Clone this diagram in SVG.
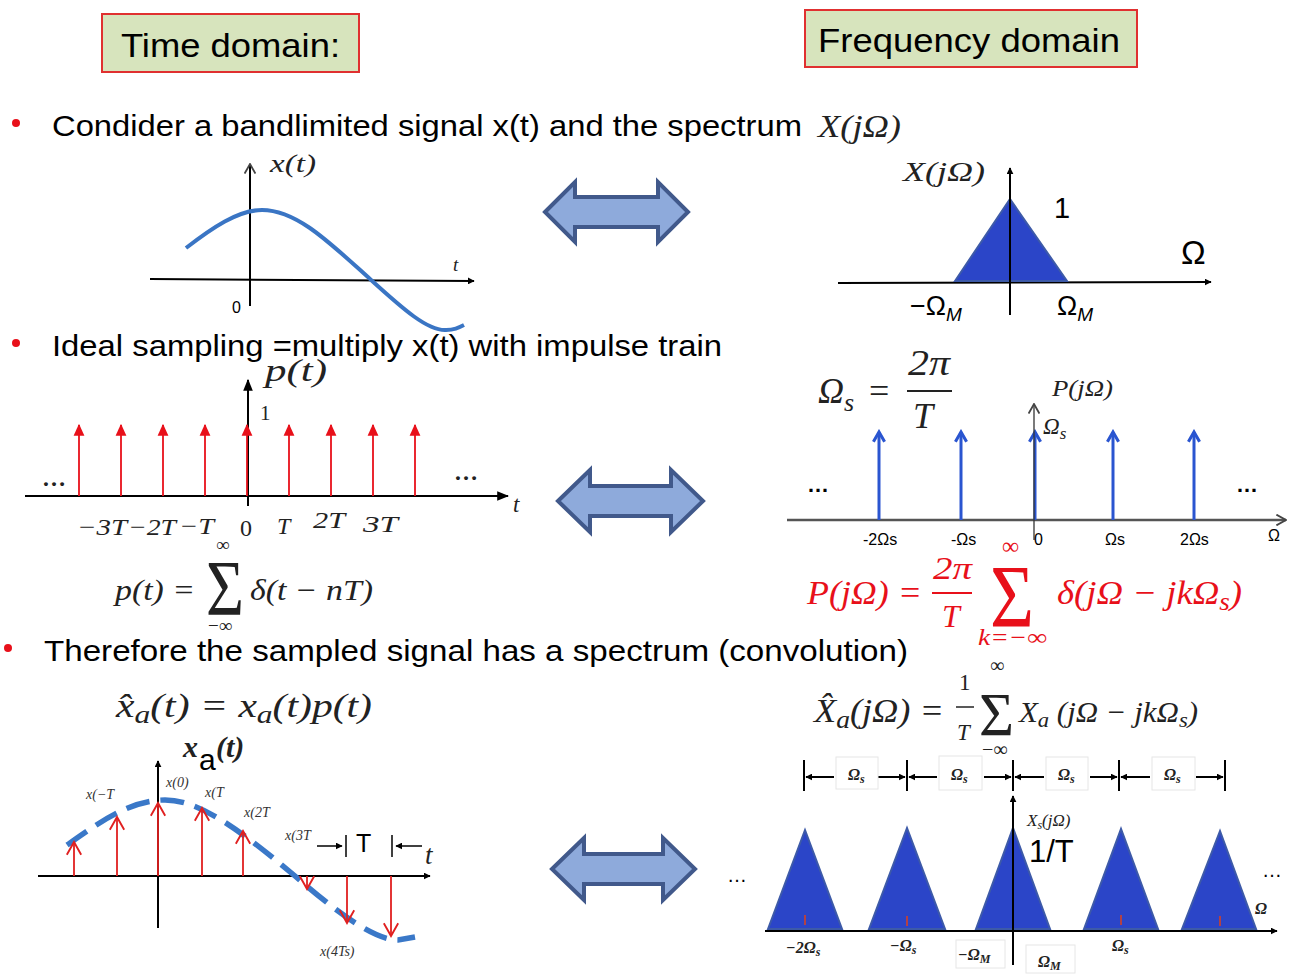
<svg xmlns="http://www.w3.org/2000/svg" width="1297" height="974" viewBox="0 0 1297 974">
<defs>
<style>
.sans{font-family:"Liberation Sans",Arial,sans-serif;fill:#000}
.m{font-family:"Liberation Serif","Times New Roman",serif;font-style:italic;fill:#222}
.mr{font-family:"Liberation Serif","Times New Roman",serif;fill:#222}
.ax{stroke:#000;stroke-width:2;fill:none}
.axg{stroke:#555;stroke-width:2.5;fill:none}
.title{fill:#d7e4bd;stroke:#e03030;stroke-width:2}
.dbl{fill:#8eaadb;stroke:#41598b;stroke-width:4;stroke-linejoin:miter}
.imp{stroke:#e8101a;stroke-width:1.8}
.bimp{stroke:#2a55d0;stroke-width:3}
.samp{stroke:#e02020;stroke-width:1.8;fill:none}
.tri{fill:#2b45c8;stroke:#3d5aa8;stroke-width:2}
.red{fill:#e8101a}
.rm{font-family:"Liberation Serif","Times New Roman",serif;font-style:italic;fill:#e8101a}
.box{fill:#fff;stroke:#e6e6e6;stroke-width:1}
</style>
<marker id="ah" viewBox="0 0 10 10" refX="9" refY="5" markerWidth="7" markerHeight="7" markerUnits="userSpaceOnUse" orient="auto"><path d="M0,0 L10,5 L0,10 Z" fill="#000"/></marker>
<marker id="ahb" viewBox="0 0 10 10" refX="9" refY="5" markerWidth="12" markerHeight="12" markerUnits="userSpaceOnUse" orient="auto"><path d="M0,1 L10,5 L0,9 Z" fill="#000"/></marker>
<marker id="aho" viewBox="0 0 10 10" refX="9" refY="5" markerWidth="12" markerHeight="12" markerUnits="userSpaceOnUse" orient="auto"><path d="M1,0.5 L9,5 L1,9.5" fill="none" stroke="#444" stroke-width="1.5"/></marker>
<marker id="ahr" viewBox="0 0 10 10" refX="9" refY="5" markerWidth="12" markerHeight="12" markerUnits="userSpaceOnUse" orient="auto"><path d="M0,0.5 L10,5 L0,9.5 Z" fill="#e8101a"/></marker>
<marker id="ahbl" viewBox="0 0 10 10" refX="8" refY="5" markerWidth="14" markerHeight="14" markerUnits="userSpaceOnUse" orient="auto"><path d="M1,1 L8,5 L1,9" fill="none" stroke="#2a55d0" stroke-width="2.2"/></marker>
<marker id="ahv" viewBox="0 0 10 10" refX="9" refY="5" markerWidth="16" markerHeight="16" markerUnits="userSpaceOnUse" orient="auto"><path d="M1,0.5 L9,5 L1,9.5" fill="none" stroke="#e02020" stroke-width="1.2"/></marker>
</defs>
<rect width="1297" height="974" fill="#fff"/>

<g id="title-time"><rect class="title" x="102" y="14" width="257" height="58"/><text class="sans" x="121" y="57" font-size="34" textLength="219" lengthAdjust="spacingAndGlyphs">Time domain:</text></g>
<g id="title-freq"><rect class="title" x="805" y="10" width="332" height="57"/><text class="sans" x="818" y="52" font-size="34" textLength="302" lengthAdjust="spacingAndGlyphs">Frequency domain</text></g>

<g id="bullet1"><circle cx="16" cy="123" r="4" class="red"/><text class="sans" x="52" y="136" font-size="30" textLength="750" lengthAdjust="spacingAndGlyphs">Condider a bandlimited signal x(t) and the spectrum</text><text class="m" x="818" y="137" font-size="32" textLength="83" lengthAdjust="spacingAndGlyphs">X(jΩ)</text></g>

<g id="plot-xt">
<line class="ax" x1="150" y1="279" x2="474" y2="281" stroke-width="1.6" marker-end="url(#ah)"/>
<line class="ax" x1="250" y1="306" x2="250" y2="164" stroke-width="1.3" marker-end="url(#aho)"/>
<text class="m" x="270" y="172" font-size="26" textLength="46" lengthAdjust="spacingAndGlyphs">x(t)</text>
<text class="m" x="453" y="271" font-size="19">t</text>
<text class="sans" x="232" y="313" font-size="16" fill="#444">0</text>
<path d="M186,248 C212,228 238,210 262,210 C297,210 330,243 370,279 C404,310 428,331 446,330 C454,330 458,328 464,325" fill="none" stroke="#3a75c4" stroke-width="4"/>
</g>

<g id="plot-Xjw">
<line class="ax" x1="838" y1="283" x2="1211" y2="282" marker-end="url(#ah)"/>
<polygon class="tri" points="955,281 1010,199 1067,281"/>
<line class="ax" x1="1010" y1="315" x2="1010" y2="168" marker-end="url(#ah)"/>
<text class="m" x="903" y="181" font-size="27" textLength="82" lengthAdjust="spacingAndGlyphs">X(jΩ)</text>
<text class="sans" x="1054" y="218" font-size="29">1</text>
<text class="sans" x="1181" y="264" font-size="33">Ω</text>
<text class="sans" x="910" y="315" font-size="27">−Ω<tspan font-size="19" dy="6" font-style="italic">M</tspan></text>
<text class="sans" x="1057" y="315" font-size="27">Ω<tspan font-size="19" dy="6" font-style="italic">M</tspan></text>
</g>

<g id="bullet2"><circle cx="16" cy="343" r="4" class="red"/><text class="sans" x="52" y="356" font-size="30" textLength="670" lengthAdjust="spacingAndGlyphs">Ideal sampling =multiply x(t) with impulse train</text></g>

<g id="plot-pt">
<line class="ax" x1="25" y1="496" x2="508" y2="496" stroke="#333" marker-end="url(#ahb)"/>
<line class="ax" x1="248" y1="506" x2="248" y2="380" stroke="#111" marker-end="url(#ahb)"/>
<g class="imp" marker-end="url(#ahr)">
<line x1="79" y1="496" x2="79" y2="425"/><line x1="121" y1="496" x2="121" y2="425"/><line x1="163" y1="496" x2="163" y2="425"/><line x1="205" y1="496" x2="205" y2="425"/><line x1="247" y1="496" x2="247" y2="425"/><line x1="289" y1="496" x2="289" y2="425"/><line x1="331" y1="496" x2="331" y2="425"/><line x1="373" y1="496" x2="373" y2="425"/><line x1="415" y1="496" x2="415" y2="425"/>
</g>
<text class="m" x="265" y="381" font-size="32" textLength="62" lengthAdjust="spacingAndGlyphs">p(t)</text>
<text class="mr" x="260" y="420" font-size="21">1</text>
<text class="mr" x="42" y="486" font-size="24" font-weight="bold">…</text>
<text class="mr" x="454" y="480" font-size="24" font-weight="bold">…</text>
<text class="m" x="513" y="512" font-size="23">t</text>
<text class="m" x="77" y="535" font-size="24" textLength="50" lengthAdjust="spacingAndGlyphs">−3T</text>
<text class="m" x="128" y="535" font-size="24" textLength="48" lengthAdjust="spacingAndGlyphs">−2T</text>
<text class="m" x="179" y="534" font-size="24" textLength="35" lengthAdjust="spacingAndGlyphs">−T</text>
<text class="mr" x="240" y="536" font-size="24">0</text>
<text class="m" x="277" y="534" font-size="24">T</text>
<text class="m" x="313" y="528" font-size="24" textLength="32" lengthAdjust="spacingAndGlyphs">2T</text>
<text class="m" x="363" y="532" font-size="24" textLength="35" lengthAdjust="spacingAndGlyphs">3T</text>
<text class="mr" x="216" y="551" font-size="19">∞</text>
<text class="m" x="115" y="600" font-size="30" textLength="80" lengthAdjust="spacingAndGlyphs">p(t) =</text>
<text class="mr" x="206" y="614" font-size="78" textLength="38" lengthAdjust="spacingAndGlyphs">Σ</text>
<text class="m" x="250" y="600" font-size="30" textLength="123" lengthAdjust="spacingAndGlyphs">δ(t − nT)</text>
<text class="mr" x="208" y="632" font-size="19">−∞</text>
</g>

<g id="plot-Pjw">
<text class="m" x="818" y="403" font-size="36">Ω<tspan font-size="26" dy="8">s</tspan></text>
<text class="mr" x="869" y="403" font-size="36">=</text>
<text class="m" x="908" y="375" font-size="36" textLength="42" lengthAdjust="spacingAndGlyphs">2π</text>
<line x1="907" y1="391" x2="952" y2="391" stroke="#222" stroke-width="2.2"/>
<text class="m" x="913" y="428" font-size="36">T</text>
<line class="axg" x1="787" y1="520" x2="1286" y2="520" marker-end="url(#aho)"/>
<g class="bimp" marker-end="url(#ahbl)">
<line x1="879" y1="520" x2="879" y2="432"/><line x1="961" y1="520" x2="961" y2="432"/><line x1="1035" y1="520" x2="1035" y2="432"/><line x1="1113" y1="520" x2="1113" y2="432"/><line x1="1194" y1="520" x2="1194" y2="432"/>
</g>
<line x1="1034" y1="540" x2="1034" y2="404" stroke="#333" stroke-width="1.3" marker-end="url(#aho)"/>
<text class="m" x="1052" y="396" font-size="23" textLength="61" lengthAdjust="spacingAndGlyphs">P(jΩ)</text>
<text class="m" x="1043" y="434" font-size="23">Ω<tspan font-size="17" dy="5">s</tspan></text>
<text class="sans" x="807" y="492" font-size="22" font-weight="bold">…</text>
<text class="sans" x="1236" y="492" font-size="22" font-weight="bold">…</text>
<text class="sans" x="863" y="545" font-size="16" fill="#333">-2Ωs</text>
<text class="sans" x="951" y="545" font-size="16" fill="#333">-Ωs</text>
<text class="sans" x="1034" y="545" font-size="16" fill="#333">0</text>
<text class="sans" x="1105" y="545" font-size="16" fill="#333">Ωs</text>
<text class="sans" x="1180" y="545" font-size="16" fill="#333">2Ωs</text>
<text class="sans" x="1268" y="541" font-size="16" fill="#333">Ω</text>
<text class="rm" x="807" y="604" font-size="34" textLength="115" lengthAdjust="spacingAndGlyphs">P(jΩ) =</text>
<text class="rm" x="933" y="579" font-size="32" textLength="39" lengthAdjust="spacingAndGlyphs">2π</text>
<line x1="932" y1="593" x2="972" y2="593" stroke="#e8101a" stroke-width="2.2"/>
<text class="rm" x="942" y="627" font-size="32">T</text>
<text class="mr" x="1002" y="554" font-size="24" style="fill:#e8101a">∞</text>
<text class="mr" x="990" y="626" font-size="88" textLength="44" lengthAdjust="spacingAndGlyphs" style="fill:#e8101a">Σ</text>
<text class="rm" x="978" y="645" font-size="23" textLength="69" lengthAdjust="spacingAndGlyphs">k=−∞</text>
<text class="rm" x="1057" y="604" font-size="34" textLength="185" lengthAdjust="spacingAndGlyphs">δ(jΩ − jkΩ<tspan font-size="25" dy="6">s</tspan><tspan dy="-6">)</tspan></text>
</g>

<g id="bullet3"><circle cx="8" cy="648" r="4" class="red"/><text class="sans" x="44" y="661" font-size="30" textLength="864" lengthAdjust="spacingAndGlyphs">Therefore the sampled signal has  a spectrum (convolution)</text></g>

<g id="plot-sampled">
<text class="m" x="116" y="717" font-size="33" textLength="256" lengthAdjust="spacingAndGlyphs">x&#x302;<tspan font-size="25" dy="6">a</tspan><tspan dy="-6">(t) = x</tspan><tspan font-size="25" dy="6">a</tspan><tspan dy="-6">(t)p(t)</tspan></text>
<text class="m" x="183" y="757" font-size="30" font-weight="bold">x</text>
<text class="sans" x="199" y="770" font-size="30">a</text>
<text class="m" x="216" y="757" font-size="30" font-weight="bold">(t)</text>
<line class="ax" x1="38" y1="876" x2="430" y2="876" marker-end="url(#ah)"/>
<line class="ax" x1="158" y1="928" x2="158" y2="761" marker-end="url(#ah)"/>
<path d="M67,845 C100,822 130,800 165,800 C200,800 240,830 295,876 C340,915 375,940 398,940 L415,937" fill="none" stroke="#3a78c8" stroke-width="5.5" stroke-dasharray="24 11"/>
<g class="samp" marker-end="url(#ahv)">
<line x1="74" y1="876" x2="74" y2="842"/><line x1="117" y1="876" x2="117" y2="817"/><line x1="158" y1="876" x2="158" y2="803"/><line x1="202" y1="876" x2="202" y2="808"/><line x1="243" y1="876" x2="243" y2="831"/><line x1="307" y1="876" x2="307" y2="889"/><line x1="347" y1="876" x2="347" y2="923"/><line x1="391" y1="876" x2="391" y2="936"/>
</g>
<g class="m" font-size="14" font-style="italic">
<text x="86" y="799" style="fill:#333">x(−T</text>
<text x="166" y="787" style="fill:#333">x(0)</text>
<text x="205" y="797" style="fill:#333">x(T</text>
<text x="244" y="817" style="fill:#333">x(2T</text>
<text x="285" y="840" style="fill:#333">x(3T</text>
<text x="320" y="956" style="fill:#333">x(4Ts)</text>
</g>
<line x1="317" y1="846" x2="342" y2="846" stroke="#000" stroke-width="1.5" marker-end="url(#ah)"/>
<line x1="346" y1="835" x2="346" y2="857" stroke="#000" stroke-width="1.5"/>
<text class="sans" x="356" y="852" font-size="25">T</text>
<line x1="392" y1="835" x2="392" y2="857" stroke="#000" stroke-width="1.5"/>
<line x1="422" y1="846" x2="396" y2="846" stroke="#000" stroke-width="1.5" marker-end="url(#ah)"/>
<text class="m" x="425" y="864" font-size="27">t</text>
</g>

<g id="plot-Xs">
<text class="m" x="814" y="722" font-size="33" textLength="130" lengthAdjust="spacingAndGlyphs">X&#x302;<tspan font-size="25" dy="6">a</tspan><tspan dy="-6">(jΩ) =</tspan></text>
<text class="mr" x="959" y="690" font-size="23">1</text>
<line x1="956" y1="707" x2="974" y2="707" stroke="#222" stroke-width="1.5"/>
<text class="m" x="957" y="740" font-size="23">T</text>
<text class="mr" x="990" y="672" font-size="20">∞</text>
<text class="mr" x="979" y="735" font-size="62" textLength="35" lengthAdjust="spacingAndGlyphs">Σ</text>
<text class="mr" x="982" y="756" font-size="20">−∞</text>
<text class="m" x="1019" y="722" font-size="30" textLength="179" lengthAdjust="spacingAndGlyphs">X<tspan font-size="22" dy="5">a</tspan><tspan dy="-5"> (jΩ − jkΩ</tspan><tspan font-size="22" dy="5">s</tspan><tspan dy="-5">)</tspan></text>
<g stroke="#000" stroke-width="2">
<line x1="804" y1="760" x2="804" y2="791"/><line x1="907" y1="760" x2="907" y2="791"/><line x1="1013" y1="760" x2="1013" y2="791"/><line x1="1119" y1="760" x2="1119" y2="791"/><line x1="1225" y1="760" x2="1225" y2="791"/>
</g>
<g stroke="#000" stroke-width="2" marker-end="url(#ah)">
<line x1="834" y1="777" x2="806" y2="777"/><line x1="878" y1="777" x2="905" y2="777"/>
<line x1="937" y1="777" x2="909" y2="777"/><line x1="984" y1="777" x2="1011" y2="777"/>
<line x1="1044" y1="777" x2="1015" y2="777"/><line x1="1090" y1="777" x2="1117" y2="777"/>
<line x1="1150" y1="777" x2="1121" y2="777"/><line x1="1196" y1="777" x2="1223" y2="777"/>
</g>
<rect class="box" x="836" y="757" width="42" height="32"/><rect class="box" x="939" y="756" width="43" height="34"/><rect class="box" x="1046" y="757" width="42" height="33"/><rect class="box" x="1152" y="757" width="43" height="33"/>
<g class="m" font-size="16" font-weight="bold">
<text x="848" y="780">Ω<tspan font-size="12" dy="3">s</tspan></text>
<text x="951" y="780">Ω<tspan font-size="12" dy="3">s</tspan></text>
<text x="1058" y="780">Ω<tspan font-size="12" dy="3">s</tspan></text>
<text x="1164" y="780">Ω<tspan font-size="12" dy="3">s</tspan></text>
</g>
<polygon class="tri" points="768,929 805,830 842,929"/>
<polygon class="tri" points="869,929 907,828 945,929"/>
<polygon class="tri" points="976,929 1013,828 1050,929"/>
<polygon class="tri" points="1084,929 1121,829 1158,929"/>
<polygon class="tri" points="1182,929 1220,831 1256,929"/>
<g stroke="#e0401a" stroke-width="1.5">
<line x1="805" y1="915" x2="805" y2="925"/><line x1="907" y1="916" x2="907" y2="926"/><line x1="1121" y1="915" x2="1121" y2="925"/><line x1="1220" y1="916" x2="1220" y2="926"/>
</g>
<line class="ax" x1="765" y1="931" x2="1277" y2="931" stroke-width="2.5" marker-end="url(#ah)"/>
<line class="ax" x1="1013" y1="965" x2="1013" y2="796" marker-end="url(#ah)"/>
<text class="m" x="1027" y="826" font-size="17">X<tspan font-size="12" dy="3">s</tspan><tspan dy="-3">(jΩ)</tspan></text>
<text class="sans" x="1029" y="862" font-size="31">1/T</text>
<text class="m" x="1255" y="914" font-size="16" font-weight="bold">Ω</text>
<text class="sans" x="727" y="882" font-size="20">…</text>
<text class="sans" x="1262" y="877" font-size="20">…</text>
<text class="m" x="786" y="953" font-size="16" font-weight="bold">−2Ω<tspan font-size="12" dy="3">s</tspan></text>
<text class="m" x="890" y="951" font-size="16" font-weight="bold">−Ω<tspan font-size="12" dy="3">s</tspan></text>
<rect class="box" x="956" y="940" width="49" height="28"/>
<text class="m" x="958" y="960" font-size="16" font-weight="bold">−Ω<tspan font-size="12" dy="3">M</tspan></text>
<rect class="box" x="1026" y="945" width="49" height="28"/>
<text class="m" x="1038" y="967" font-size="16" font-weight="bold">Ω<tspan font-size="12" dy="3">M</tspan></text>
<text class="m" x="1112" y="951" font-size="16" font-weight="bold">Ω<tspan font-size="12" dy="3">s</tspan></text>
</g>

<g id="connectors">
<path class="dbl" d="M545,212 L575,182 L575,197 L658,197 L658,182 L688,212 L658,242 L658,227 L575,227 L575,242 Z"/>
<path class="dbl" d="M558,501 L590,470 L590,486 L671,486 L671,470 L703,501 L671,532 L671,516 L590,516 L590,532 Z"/>
<path class="dbl" d="M552,869 L584,838 L584,854 L663,854 L663,838 L695,869 L663,900 L663,884 L584,884 L584,900 Z"/>
</g>
</svg>
